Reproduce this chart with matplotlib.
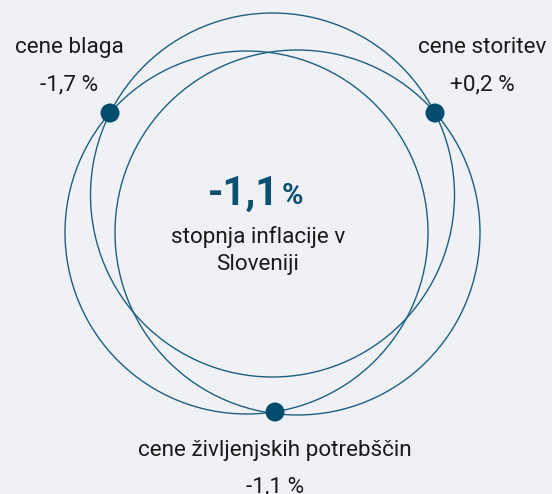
import matplotlib.pyplot as plt
from matplotlib.patches import Circle

# chart data
labels = ["cene blaga", "cene storitev", "cene življenjskih potrebščin"]
values = ["-1,7 %", "+0,2 %", "-1,1 %"]
headline_value = "-1,1"
headline_unit = "%"
headline_text = ["stopnja inflacije v", "Sloveniji"]

# layout (pixel coordinates, y down)
W, H = 552, 494
BG = "#eff1f5"
LINE = "#1d5f80"
DOT = "#004c6f"
DARK = "#1a1a1a"
FS = 16.2

dot_xy = [(110, 113), (435, 113), (275, 412)]
circle_centers = [(272.5, 195), (246.5, 232.5), (297.5, 232.5)]
circle_radii = [182, 181.5, 182.5]
label_xy = [(69, 53), (482, 53), (275, 456)]
value_xy = [(69, 90), (482, 90), (275, 492)]

plt.rcParams["font.family"] = ["Roboto", "DejaVu Sans"]

fig = plt.figure(figsize=(W / 100, H / 100), dpi=100)
fig.patch.set_facecolor(BG)
ax = fig.add_axes([0, 0, 1, 1])
ax.set_facecolor(BG)
ax.set_xlim(0, W)
ax.set_ylim(H, 0)
ax.set_aspect("equal")
ax.set_axis_off()

# three overlapping rings
for (cx, cy), r in zip(circle_centers, circle_radii):
    ax.add_patch(Circle((cx, cy), r, fill=False, edgecolor=LINE, linewidth=1.0))

# dots where the rings meet
for x, y in dot_xy:
    ax.add_patch(Circle((x, y), 9.5, facecolor=DOT, edgecolor="none", zorder=3))

# category labels and values
for (lx, ly), (vx, vy), lab, val in zip(label_xy, value_xy, labels, values):
    ax.text(lx, ly, lab, ha="center", va="baseline", fontsize=FS, color=DARK)
    ax.text(vx, vy, val, ha="center", va="baseline", fontsize=FS, color=DARK)

# headline in the middle
ax.text(279, 205, headline_value, ha="right", va="baseline", fontsize=29,
        fontweight="bold", color="#0b4f71")
ax.text(282, 204, headline_unit, ha="left", va="baseline", fontsize=21,
        fontweight="bold", color="#0b4f71")
ax.text(258, 243, headline_text[0], ha="center", va="baseline",
        fontsize=FS, color=DARK)
ax.text(258, 270, headline_text[1], ha="center", va="baseline",
        fontsize=FS, color=DARK)

fig.savefig("out.png", dpi=100, facecolor=BG)
plt.close(fig)
